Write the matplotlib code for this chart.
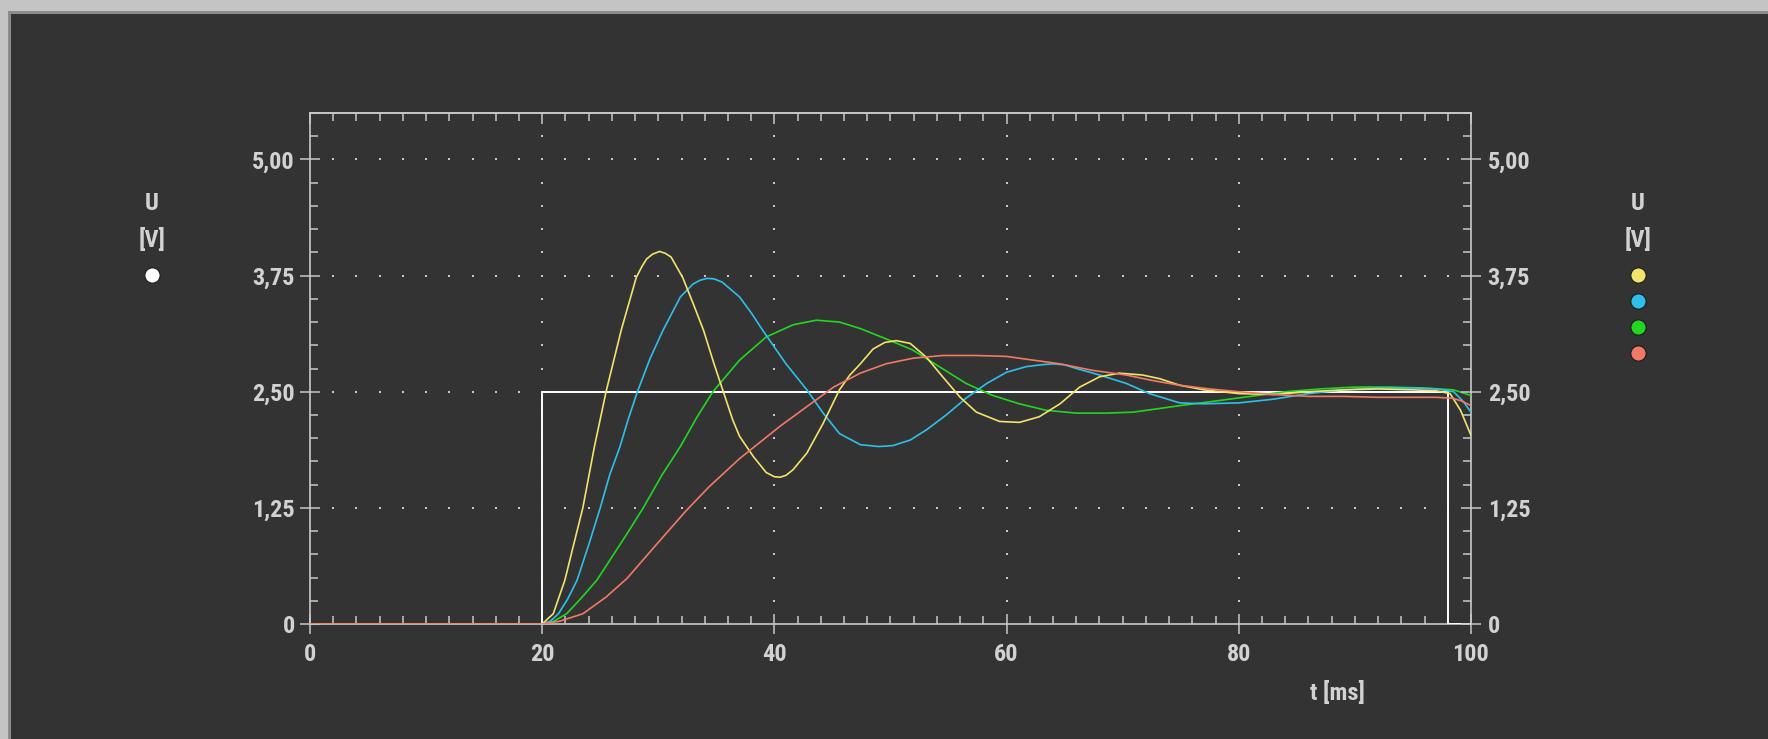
"""Oscilloscope-style step response plot (dark panel, four responses)."""

import matplotlib
matplotlib.use("Agg")
import matplotlib.pyplot as plt
import numpy as np
from matplotlib import font_manager
from matplotlib.patches import Rectangle
from matplotlib.ticker import MultipleLocator, FixedLocator, NullFormatter

# ---- data ----
step_t = [0, 20, 20, 98, 98, 100]
step_u = [0, 0, 2.5, 2.5, 0, 0]

yellow_t = [0, 20, 20.95, 21.95, 22.7, 23.5, 24.5, 25.5, 26.8, 28.1, 28.6, 29.0, 29.5, 30.1,
            30.6, 31.1, 32.1, 33.0, 33.9, 34.8, 35.6, 36.4, 37.0, 38.2, 39.3, 40.0, 40.5,
            41.0, 41.6, 42.8, 44.2, 45.6, 46.5, 47.4, 48.5, 49.5, 50.5, 51.7, 53.1,
            54.5, 56.0, 57.4, 59.4, 61.1, 62.8, 64.6, 66.3, 68.0, 69.7, 71.7,
            73.2, 74.9, 77, 80, 83, 86, 89, 92, 95, 97, 98.2, 99.1, 100]
yellow_u = [0, 0, 0.11, 0.47, 0.85, 1.25, 1.91, 2.50, 3.16, 3.73, 3.85, 3.93, 3.98, 4.01,
            3.99, 3.95, 3.73, 3.45, 3.16, 2.80, 2.50, 2.20, 2.02, 1.80, 1.63, 1.585, 1.58,
            1.60, 1.66, 1.84, 2.16, 2.52, 2.68, 2.80, 2.96, 3.03, 3.05, 3.02, 2.87,
            2.66, 2.44, 2.28, 2.18, 2.17, 2.23, 2.37, 2.55, 2.66, 2.70, 2.68,
            2.64, 2.57, 2.52, 2.48, 2.47, 2.50, 2.52, 2.53, 2.52, 2.51, 2.48, 2.30, 2.03]

blue_t = [0, 20, 20.7, 21.4, 22.2, 23.0, 24.0, 25.0, 25.8, 26.7, 27.4, 28.2,
          29.3, 30.4, 31.9, 33.0, 33.6, 34.2, 34.8, 35.5, 37.0, 38.0, 39.0, 40.0, 41.0,
          42.8, 44.2, 45.6, 47.4, 49.0, 50.2, 51.7, 53.1, 54.8, 56.5, 58.3,
          60.0, 61.7, 63.0, 64.0, 65.0, 66.0, 68.0, 70.3, 72.3, 74.9, 77, 80, 83, 86, 89,
          92, 95, 97, 98.5, 99.3, 100]
blue_u = [0, 0, 0.03, 0.11, 0.27, 0.47, 0.85, 1.25, 1.60, 1.91, 2.20, 2.50,
          2.86, 3.16, 3.52, 3.66, 3.70, 3.72, 3.715, 3.68, 3.52, 3.35, 3.16, 2.98, 2.80,
          2.52, 2.27, 2.05, 1.93, 1.91, 1.92, 1.98, 2.09, 2.25, 2.43, 2.59,
          2.71, 2.77, 2.79, 2.80, 2.79, 2.75, 2.68, 2.59, 2.48, 2.38, 2.37, 2.38, 2.42, 2.48, 2.52,
          2.54, 2.54, 2.53, 2.50, 2.40, 2.28]

green_t = [0, 20, 21.0, 22.1, 23.3, 24.7, 26.0, 27.4, 28.7, 30.3, 31.9, 33.3,
           34.7, 37.0, 39.3, 41.6, 43.6, 45.6, 47.4, 49.6, 51.9, 54.2, 56.5,
           58.8, 61.1, 63.4, 66.0, 68.6, 70.9, 73.2, 74.9, 78, 81, 84, 87, 90,
           93, 96, 98.5, 100]
green_u = [0, 0, 0.03, 0.11, 0.27, 0.47, 0.72, 0.99, 1.25, 1.60, 1.91, 2.22,
           2.50, 2.84, 3.09, 3.22, 3.27, 3.25, 3.18, 3.07, 2.95, 2.77, 2.59,
           2.46, 2.37, 2.30, 2.27, 2.27, 2.28, 2.32, 2.35, 2.40, 2.45, 2.50, 2.53, 2.55,
           2.55, 2.54, 2.52, 2.46]

red_t = [0, 20, 21.5, 23.5, 25.5, 27.3, 29.8, 32.4, 34.4, 37.0, 40.5, 42.8,
         45.1, 47.4, 49.6, 51.9, 54.5, 57.4, 60.0, 62.3, 64.6, 67.4, 70.3,
         72.6, 74.9, 77.5, 80, 83, 86, 89, 92, 95, 97, 98.4, 99.2, 100]
red_u = [0, 0, 0.03, 0.11, 0.29, 0.49, 0.85, 1.22, 1.48, 1.78, 2.13, 2.34,
         2.55, 2.70, 2.80, 2.86, 2.89, 2.89, 2.88, 2.84, 2.80, 2.73, 2.68,
         2.62, 2.57, 2.53, 2.50, 2.47, 2.45, 2.45, 2.44, 2.44, 2.44, 2.43, 2.40, 2.35]

y_ticks = [0, 1.25, 2.5, 3.75, 5.0]
y_labels = ["0", "1,25", "2,50", "3,75", "5,00"]
x_ticks = [0, 20, 40, 60, 80, 100]

BG = "#333333"
FG = "#d2d2d2"
AXC = "#c8c8c8"
COLORS = {"yellow": "#f2e36c", "blue": "#2ec0ea", "green": "#22d622", "red": "#f07a66"}


def narrow_bold_font():
    """Pick a narrow bold face if one is installed, else DejaVu Sans Bold."""
    fonts = font_manager.fontManager.ttflist
    wanted = ["Liberation Sans Narrow", "Arial Narrow", "Roboto Condensed",
              "DejaVu Sans Condensed", "Open Sans Condensed"]
    for name in wanted:
        for f in fonts:
            if f.name == name and f.weight in ("bold", 700):
                return font_manager.FontProperties(fname=f.fname)
    for f in fonts:
        if f.name == "DejaVu Sans" and "condensed" in str(f.stretch) and f.weight in ("bold", 700):
            return font_manager.FontProperties(fname=f.fname)
    for f in fonts:
        if "Condensed" in f.fname and "Bold" in f.fname:
            return font_manager.FontProperties(fname=f.fname)
    return font_manager.FontProperties(family="DejaVu Sans", weight="bold")


def main() -> None:
    W, H = 1768, 739
    fig = plt.figure(figsize=(W / 100, H / 100), dpi=100, facecolor=BG)

    fp = narrow_bold_font()
    fp.set_size(17.5)

    # window frame (light border top/left with darker inner edge)
    fig.patches.append(Rectangle((0, 1 - 11 / H), 1, 11 / H, transform=fig.transFigure,
                                 facecolor="#c4c4c4", edgecolor="none", zorder=0))
    fig.patches.append(Rectangle((0, 0), 8 / W, 1, transform=fig.transFigure,
                                 facecolor="#c4c4c4", edgecolor="none", zorder=0))
    fig.patches.append(Rectangle((8 / W, 1 - 14 / H), 1, 3 / H, transform=fig.transFigure,
                                 facecolor="#8c8c8c", edgecolor="none", zorder=0))
    fig.patches.append(Rectangle((8 / W, 0), 3 / W, 1 - 11 / H, transform=fig.transFigure,
                                 facecolor="#8c8c8c", edgecolor="none", zorder=0))

    x0, x1 = 310, 1471
    y_top, y_zero = 113, 624
    ax = fig.add_axes([x0 / W, 1 - y_zero / H, (x1 - x0) / W, (y_zero - y_top) / H])
    ax.set_facecolor(BG)
    ax.set_xlim(0, 100)
    ax.set_ylim(0, 5.5)

    for s in ax.spines.values():
        s.set_color(AXC)
        s.set_linewidth(1.2)

    # dotted grid: one dot per minor tick along each major line
    minor_x = np.arange(2, 100, 2)
    minor_y = np.arange(0.25, 5.5, 0.25)
    for yv in y_ticks[1:]:
        ax.plot(minor_x, np.full_like(minor_x, yv, dtype=float), ls="none",
                marker="s", ms=1.5, mew=0, color="#c8c8c8", zorder=1)
    for xv in x_ticks[1:-1]:
        ax.plot(np.full_like(minor_y, xv), minor_y, ls="none",
                marker="s", ms=1.5, mew=0, color="#c8c8c8", zorder=1)

    ax.plot(step_t, step_u, color="white", lw=1.4, zorder=3)
    ax.plot(green_t, green_u, color=COLORS["green"], lw=1.2, zorder=4)
    ax.plot(blue_t, blue_u, color=COLORS["blue"], lw=1.2, zorder=4)
    ax.plot(yellow_t, yellow_u, color=COLORS["yellow"], lw=1.2, zorder=4)
    ax.plot(red_t, red_u, color=COLORS["red"], lw=1.2, zorder=5)

    ax.xaxis.set_major_locator(FixedLocator(x_ticks))
    ax.xaxis.set_minor_locator(MultipleLocator(2))
    ax.yaxis.set_major_locator(FixedLocator(y_ticks))
    ax.yaxis.set_minor_locator(MultipleLocator(0.25))
    ax.set_xticklabels([str(v) for v in x_ticks])
    ax.set_yticklabels(y_labels)
    for lab in ax.get_xticklabels() + ax.get_yticklabels():
        lab.set_fontproperties(fp)
        lab.set_color(FG)
    ax.tick_params(which="major", axis="x", direction="inout", length=14, width=1.1,
                   color=AXC, pad=7)
    ax.tick_params(which="major", axis="y", direction="inout", length=14, width=1.1,
                   color=AXC, pad=4)
    ax.tick_params(which="minor", direction="in", length=5.5, width=1.1,
                   color=AXC, right=True)

    # top edge: inward ticks only
    top = ax.secondary_xaxis("top")
    top.xaxis.set_major_locator(FixedLocator(x_ticks))
    top.xaxis.set_minor_locator(MultipleLocator(2))
    top.xaxis.set_major_formatter(NullFormatter())
    top.tick_params(which="major", direction="in", length=8, width=1.1, color=AXC)
    top.tick_params(which="minor", direction="in", length=5.5, width=1.1, color=AXC)
    top.spines["top"].set_color(AXC)
    top.spines["top"].set_linewidth(1.2)

    ax2 = ax.twinx()
    ax2.set_ylim(ax.get_ylim())
    ax2.yaxis.set_major_locator(FixedLocator(y_ticks))
    ax2.yaxis.set_minor_locator(MultipleLocator(0.25))
    ax2.set_yticklabels(y_labels)
    for lab in ax2.get_yticklabels():
        lab.set_fontproperties(fp)
        lab.set_color(FG)
    ax2.tick_params(which="major", direction="inout", length=14, width=1.1,
                    color=AXC, pad=5)
    ax2.tick_params(which="minor", direction="in", length=5.5, width=1.1, color=AXC)
    for s in ax2.spines.values():
        s.set_visible(False)

    ax.text(0.885, -0.135, "t [ms]", transform=ax.transAxes, ha="center", va="center",
            fontproperties=fp, color=FG)

    # channel legends
    for lx, cols in ((152, ["#ffffff"]), (1638, list(COLORS.values()))):
        fig.text(lx / W, 1 - 203 / H, "U", fontproperties=fp, color=FG,
                 ha="center", va="center")
        fig.text(lx / W, 1 - 240 / H, "[V]", fontproperties=fp, color=FG,
                 ha="center", va="center")
        for i, c in enumerate(cols):
            fig.lines.append(plt.Line2D([lx / W], [1 - (275 + 26 * i) / H],
                                        transform=fig.transFigure, marker="o", ms=11,
                                        color=c, mec="#1a1a1a", mew=0.8))

    fig.savefig("out.png", dpi=100, facecolor=BG)


if __name__ == "__main__":
    main()
